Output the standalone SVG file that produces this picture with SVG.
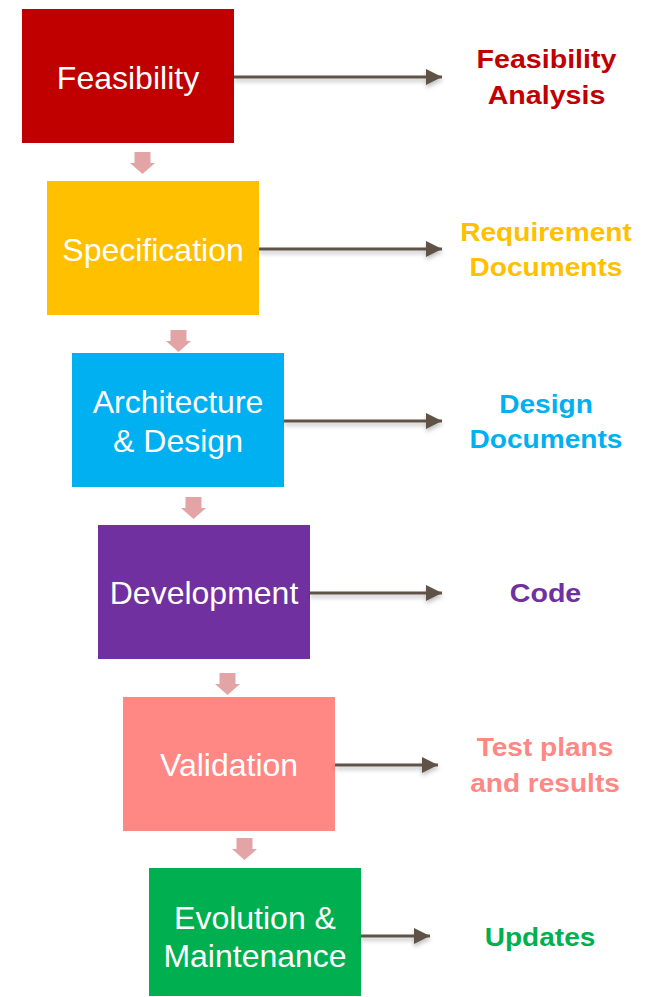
<svg xmlns="http://www.w3.org/2000/svg" width="645" height="997" viewBox="0 0 645 997">
<defs>
<style>
.box text{font-family:"Liberation Sans",Arial,sans-serif;font-size:32px;fill:#fff;text-anchor:middle}
.lbl{font-family:"Liberation Sans",Arial,sans-serif;font-size:26px;font-weight:bold;text-anchor:middle}
.down{fill:#E3A4A6}
.conn line{stroke:#5E5346;stroke-width:3}
</style>
<marker id="ah" markerUnits="userSpaceOnUse" markerWidth="18" markerHeight="18" viewBox="0 0 18 18" refX="16" refY="9" orient="auto">
<path d="M0,1 L16,9 L0,17 Z" fill="#5E5346"/>
</marker>
<filter id="sh" x="-5%" y="-100%" width="110%" height="300%">
<feDropShadow dx="0" dy="3" stdDeviation="2" flood-color="#000" flood-opacity="0.25"/>
</filter>
</defs>
<rect width="645" height="997" fill="#fff"/>

<g id="n1" class="box"><rect x="22" y="9" width="212" height="134" fill="#C00000"/><text x="128" y="89">Feasibility</text></g>
<g id="n2" class="box"><rect x="47" y="181" width="212" height="134" fill="#FFC000"/><text x="153" y="261">Specification</text></g>
<g id="n3" class="box"><rect x="72" y="353" width="212" height="134" fill="#00B0F0"/><text x="178" y="413">Architecture</text><text x="178" y="452">&amp; Design</text></g>
<g id="n4" class="box"><rect x="98" y="525" width="212" height="134" fill="#7030A0"/><text x="204" y="604">Development</text></g>
<g id="n5" class="box"><rect x="123" y="697" width="212" height="134" fill="#FF8784"/><text x="229" y="776">Validation</text></g>
<g id="n6" class="box"><rect x="149" y="868" width="212" height="128" fill="#00B050"/><text x="255" y="929">Evolution &amp;</text><text x="255" y="967">Maintenance</text></g>

<g id="flow">
<path class="down" d="M134.5,152 H150.5 V163 H155 L142.5,174 L130,163 H134.5 Z"/>
<path class="down" d="M170.5,330 H186.5 V341 H191 L178.5,352 L166,341 H170.5 Z"/>
<path class="down" d="M185.5,497 H201.5 V508 H206 L193.5,519 L181,508 H185.5 Z"/>
<path class="down" d="M219.5,673 H235.5 V684 H240 L227.5,695 L215,684 H219.5 Z"/>
<path class="down" d="M236.5,838 H252.5 V849 H257 L244.5,860 L232,849 H236.5 Z"/>
</g>

<g id="connectors" class="conn" filter="url(#sh)">
<line x1="234" y1="77" x2="442" y2="77" marker-end="url(#ah)"/>
<line x1="259" y1="249" x2="442" y2="249" marker-end="url(#ah)"/>
<line x1="284" y1="421" x2="442" y2="421" marker-end="url(#ah)"/>
<line x1="310" y1="593" x2="442" y2="593" marker-end="url(#ah)"/>
<line x1="335" y1="765" x2="438" y2="765" marker-end="url(#ah)"/>
<line x1="361" y1="936" x2="430" y2="936" marker-end="url(#ah)"/>
</g>

<g id="labels">
<g fill="#C00000"><text class="lbl" transform="translate(546.5,68) scale(1.1,1)">Feasibility</text><text class="lbl" transform="translate(546.5,104) scale(1.1,1)">Analysis</text></g>
<g fill="#FFC000"><text class="lbl" transform="translate(546,241) scale(1.08,1)">Requirement</text><text class="lbl" transform="translate(546,276) scale(1.08,1)">Documents</text></g>
<g fill="#00B0F0"><text class="lbl" transform="translate(546,413) scale(1.08,1)">Design</text><text class="lbl" transform="translate(546,448) scale(1.08,1)">Documents</text></g>
<g fill="#7030A0"><text class="lbl" transform="translate(545.5,602) scale(1.1,1)">Code</text></g>
<g fill="#FF8784"><text class="lbl" transform="translate(545,756) scale(1.08,1)">Test plans</text><text class="lbl" transform="translate(545,792) scale(1.08,1)">and results</text></g>
<g fill="#00B050"><text class="lbl" transform="translate(540,946) scale(1.08,1)">Updates</text></g>
</g>
</svg>
